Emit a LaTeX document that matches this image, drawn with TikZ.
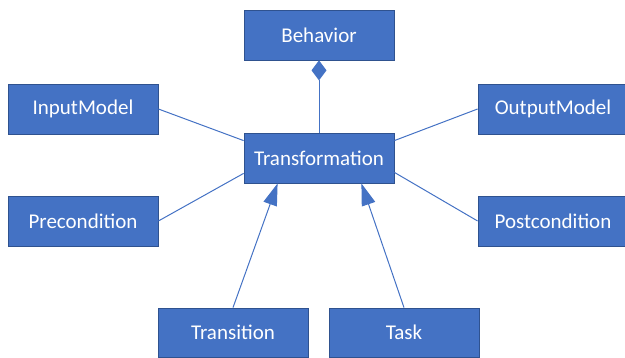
\documentclass[tikz,border=0pt]{standalone}
\usepackage{fontspec}
\setmainfont{Carlito}
\usetikzlibrary{arrows.meta}
\definecolor{boxblue}{HTML}{4472C4}
\definecolor{boxedge}{HTML}{2F528F}
\tikzset{
  umlbox/.style={draw=boxedge, line width=0.8pt, fill=boxblue, text=white,
    minimum width=150pt, minimum height=50pt, inner sep=0pt,
    font=\fontsize{21}{25}\selectfont},
  link/.style={draw=boxblue, line width=1pt},
  inherit/.style={link, -{Triangle[length=22pt,width=14pt,fill=boxblue]}},
  compose/.style={link, {Diamond[length=20pt,width=15pt,fill=boxblue]}-}
}
\begin{document}
\begin{tikzpicture}[x=1pt,y=1pt]
\useasboundingbox (0,0) rectangle (625,358);
\node[umlbox] (beh) at (319,323) {Behavior};
\node[umlbox] (tf) at (319,200) {Transformation};
\node[umlbox] (in) at (83,249) {InputModel};
\node[umlbox] (pre) at (83,137) {Precondition};
\node[umlbox] (out) at (553,249) {OutputModel};
\node[umlbox] (post) at (553,137) {Postcondition};
\node[umlbox, minimum height=49pt] (tr) at (233,25.5) {Transition};
\node[umlbox, minimum height=49pt] (task) at (404,25.5) {Task};
\draw[link] (in.east) -- ([yshift=-8pt]tf.north west);
\draw[link] (pre.east) -- ([yshift=10pt]tf.south west);
\draw[link] (out.west) -- ([yshift=-8pt]tf.north east);
\draw[link] (post.west) -- ([yshift=11pt]tf.south east);
\draw[inherit] (tr.north) -- ([xshift=34pt]tf.south west);
\draw[inherit] (task.north) -- ([xshift=-33pt]tf.south east);
\draw[compose] (beh.south) -- (tf.north);
\end{tikzpicture}
\end{document}
